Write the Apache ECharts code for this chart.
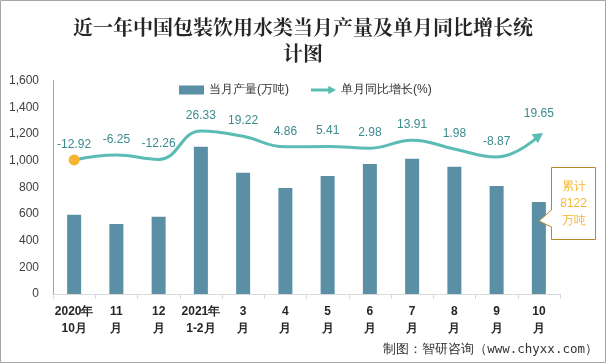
<!DOCTYPE html>
<html>
<head>
<meta charset="utf-8">
<script src="https://cdn.jsdelivr.net/npm/echarts@6/dist/echarts.min.js"></script>
<style>
html,body{margin:0;padding:0;background:#fff;}
#main{width:606px;height:363px;}
</style>
</head>
<body>
<div id="main"></div>
<script>
var categories = ['2020年\n10月','11\n月','12\n月','2021年\n1-2月','3\n月','4\n月','5\n月','6\n月','7\n月','8\n月','9\n月','10\n月'];
var production = [593, 525, 578, 1103, 908, 795, 885, 975, 1013, 953, 810, 690];
var growth = [-12.92, -6.25, -12.26, 26.33, 19.22, 4.86, 5.41, 2.98, 13.91, 1.98, -8.87, 19.65];
var yTicks = [0, 200, 400, 600, 800, 1000, 1200, 1400, 1600];
var cumulativeTotal = 8122;

var chart = echarts.init(document.getElementById('main'));

var lineData = growth.map(function (v, i) {
  if (i === 0) {
    return { value: v, symbol: 'circle', symbolSize: 11, itemStyle: { color: '#f5b52e' }, label: { distance: 4 } };
  }
  if (i === growth.length - 1) {
    return { value: v, symbol: 'triangle', symbolSize: [11, 10], symbolRotate: -55, itemStyle: { color: '#5bbcb4' } };
  }
  return { value: v, symbol: 'circle', symbolSize: 1, itemStyle: { color: 'rgba(0,0,0,0)' } };
});

var option = {
  animation: false,
  backgroundColor: '#fff',
  title: {
    text: '近一年中国包装饮用水类当月产量及单月同比增长统\n计图',
    left: 'center',
    top: 9,
    textStyle: {
      fontFamily: '"Noto Serif CJK SC", serif',
      fontSize: 20,
      fontWeight: 'bold',
      color: '#262626',
      lineHeight: 26
    }
  },
  legend: {
    left: 174,
    top: 79,
    itemWidth: 25,
    itemHeight: 9,
    itemGap: 22,
    textStyle: { fontSize: 12, color: '#333', fontFamily: 'sans-serif' },
    data: [
      { name: '当月产量(万吨)', icon: 'rect' },
      { name: '单月同比增长(%)', icon: 'path://M0,3 L18,3 L18,0 L26,4.5 L18,9 L18,6 L0,6 Z', itemStyle: { color: '#5bbcb4' } }
    ]
  },
  grid: { left: 53, right: 46, top: 80.5, bottom: 69 },
  xAxis: {
    type: 'category',
    data: categories,
    axisLine: { lineStyle: { color: '#d9d9d9' } },
    axisTick: { show: true, length: 5, lineStyle: { color: '#d9d9d9' } },
    axisLabel: {
      interval: 0,
      margin: 9,
      fontSize: 12,
      fontWeight: 'bold',
      color: '#262626',
      lineHeight: 17,
      fontFamily: 'sans-serif'
    }
  },
  yAxis: [
    {
      type: 'value',
      min: yTicks[0],
      max: yTicks[yTicks.length - 1],
      interval: 200,
      axisLine: { show: true, lineStyle: { color: '#a6a6a6' } },
      axisTick: { show: false },
      splitLine: { show: false },
      axisLabel: {
        fontSize: 12,
        color: '#404040',
        margin: 14,
        fontFamily: 'sans-serif',
        formatter: function (v) { return v.toLocaleString('en-US'); }
      }
    },
    {
      type: 'value',
      min: -195,
      max: 95,
      show: false,
      splitLine: { show: false }
    }
  ],
  series: [
    {
      name: '当月产量(万吨)',
      type: 'bar',
      data: production,
      barWidth: 14,
      itemStyle: { color: '#5b8fa5' }
    },
    {
      name: '单月同比增长(%)',
      type: 'line',
      yAxisIndex: 1,
      data: lineData,
      smooth: 0.45,
      lineStyle: { color: '#5bbcb4', width: 3 },
      itemStyle: { color: '#5bbcb4' },
      label: {
        show: true,
        position: 'top',
        distance: 9,
        fontSize: 12,
        color: '#3b8a8e',
        fontFamily: 'sans-serif'
      },
      z: 3
    }
  ],
  graphic: [
    {
      type: 'rect',
      shape: { x: 0.5, y: 0.5, width: 605, height: 362 },
      style: { fill: 'none', stroke: '#a6a6a6', lineWidth: 1 },
      silent: true
    },
    {
      type: 'polygon',
      shape: { points: [[551.5,167.5],[595.5,167.5],[595.5,239.5],[551.5,239.5],[551.5,227],[539,221],[551.5,210]] },
      style: { fill: '#fff', stroke: '#b8862b', lineWidth: 1 },
      z: 10
    },
    {
      type: 'text',
      x: 573.5,
      y: 203.5,
      style: {
        text: '累计\n' + cumulativeTotal + '\n万吨',
        fill: '#f5b731',
        fontSize: 12,
        lineHeight: 17,
        align: 'center',
        verticalAlign: 'middle',
        fontFamily: 'sans-serif'
      },
      z: 11
    },
    {
      type: 'text',
      right: 8,
      top: 343,
      style: {
        text: '制图：智研咨询（www.chyxx.com）',
        fill: '#333',
        fontSize: 12.5,
        fontFamily: 'monospace'
      }
    }
  ]
};
chart.setOption(option);
</script>
</body>
</html>
